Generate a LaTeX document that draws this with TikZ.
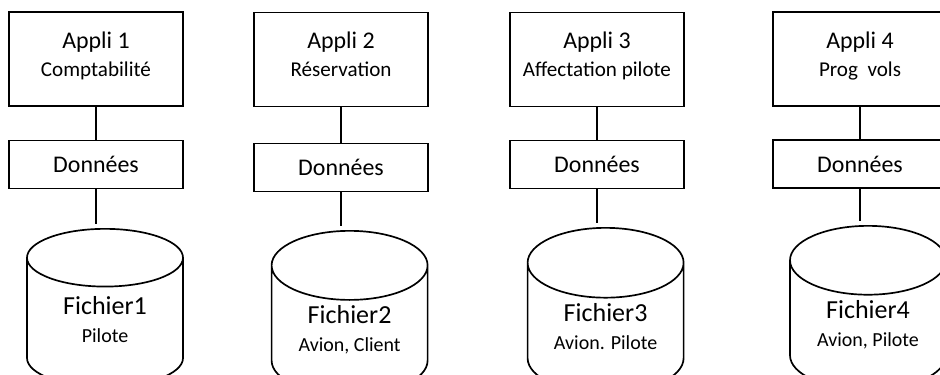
\documentclass[tikz,border=0pt]{standalone}
\usepackage{fontspec}
\setmainfont{Carlito}
\usepackage{tikz}
\usetikzlibrary{positioning,shapes.geometric}
\tikzset{
	appli/.style={draw,rectangle,align=center,line width=1.2pt,minimum width=4.35cm,minimum height=2.35cm,text depth=0.25cm,font=\fontsize{17}{18}\selectfont},
	donnees/.style={draw,rectangle,line width=1.2pt,minimum width=4.35cm,minimum height=1.2cm,font=\fontsize{17}{20}\selectfont},
	fichier/.style={draw,cylinder,shape border rotate=90,shape aspect=0.62,anchor=north,line width=1.2pt,align=center,minimum width=3.9cm,minimum height=3.95cm,text depth=0.4cm,font=\fontsize{18.5}{20}\selectfont},
	lien/.style={line width=1.2pt,shorten >=3pt}
}
\newcommand{\petit}[1]{{\fontsize{14.2}{16}\selectfont #1}}
\newcommand{\moyen}[1]{{\fontsize{15}{17}\selectfont #1}}

\begin{document}
\begin{tikzpicture}
	\clip (0,0) rectangle (23.5,-9.35);
	\node[appli] (app1) at (2.4,-1.475) {Appli 1\\[2pt]\moyen{Comptabilité}};
	\node[appli] (app2) at (8.525,-1.49) {Appli 2\\[2pt]\moyen{Réservation}};
	\node[appli] (app3) at (14.925,-1.49) {Appli 3\\[2pt]\moyen{Affectation pilote}};
	\node[appli] (app4) at (21.5,-1.475) {Appli 4\\[2pt]\moyen{Prog\ \ vols}};
	\node[donnees] (don1) at (2.4,-4.11) {Données};
	\node[donnees] (don2) at (8.525,-4.19) {Données};
	\node[donnees] (don3) at (14.925,-4.11) {Données};
	\node[donnees] (don4) at (21.5,-4.1) {Données};
	\node[fichier] (fic1) at (2.625,-5.7) {Fichier1\\\petit{Pilote}};
	\node[fichier] (fic2) at (8.74,-5.75) {Fichier2\\\petit{Avion, Client}};
	\node[fichier] (fic3) at (15.14,-5.675) {Fichier3\\\petit{Avion. Pilote}};
	\node[fichier] (fic4) at (21.7,-5.625) {Fichier4\\\petit{Avion, Pilote}};
	\draw[line width=1.2pt] (app1) -- (don1);
	\draw[line width=1.2pt] (app2) -- (don2);
	\draw[line width=1.2pt] (app3) -- (don3);
	\draw[line width=1.2pt] (app4) -- (don4);
	\draw[lien] (don1) -- (don1 |- fic1.north);
	\draw[lien] (don2) -- (don2 |- fic2.north);
	\draw[lien] (don3) -- (don3 |- fic3.north);
	\draw[lien] (don4) -- (don4 |- fic4.north);
\end{tikzpicture}
\end{document}
